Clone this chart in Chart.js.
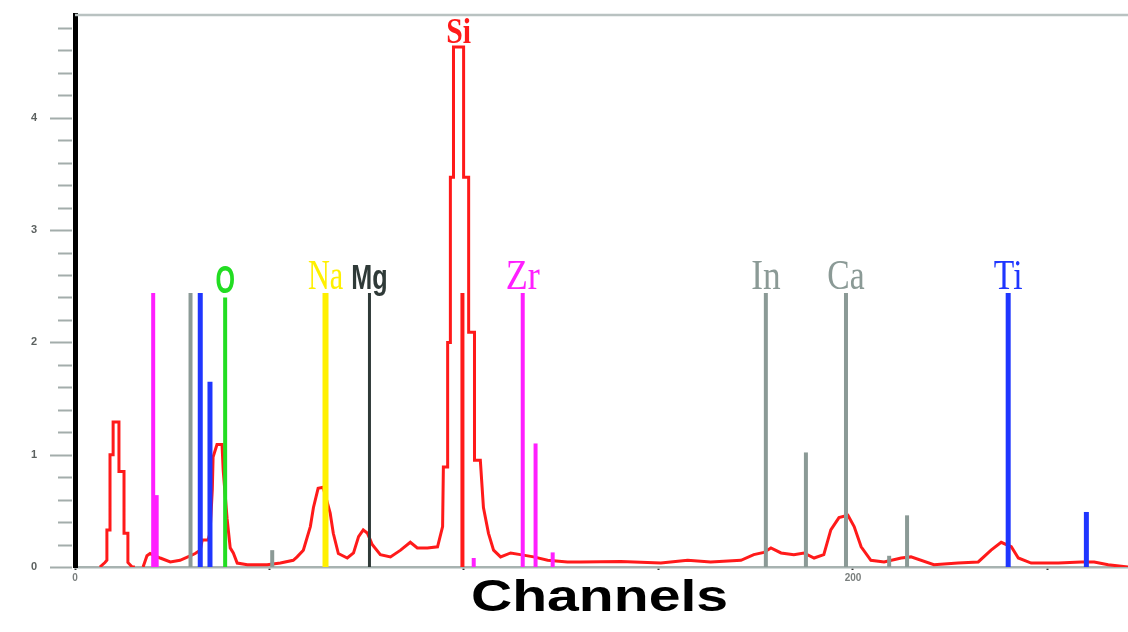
<!DOCTYPE html>
<html>
<head>
<meta charset="utf-8">
<title>Channels spectrum</title>
<script src="https://cdn.jsdelivr.net/npm/chart.js@4.4.1/dist/chart.umd.min.js"></script>
<style>
  html, body { margin: 0; padding: 0; background: #ffffff; }
  #wrap { width: 1128px; height: 632px; position: relative; }
</style>
</head>
<body>
<div id="wrap"><canvas id="spectrum"></canvas></div>
<script>
// Measured spectrum: channel and counts (x1000); null marks a break in the trace
const specChannels = [
  6.4, 7.7, 8.2, 8.2, 9.0, 9.0, 9.8, 9.8, 11.3, 11.3, 12.6, 12.6, 13.6, 13.6, 14.7, 15.4,
  16.4,
  17.5, 18.5, 19.3, 21.9, 24.5, 27.0, 29.6, 30.9, 32.2, 32.7, 34.2, 34.7, 35.3, 35.5, 36.5,
  37.8, 38.1, 39.1, 39.9, 40.7, 41.7, 44.3, 49.4, 52.8, 56.1, 57.1, 58.7, 60.5, 61.3, 62.5,
  63.8, 65.6, 66.4, 67.7, 70.0, 71.6, 72.9, 74.1, 75.2, 76.4, 78.5, 81.1, 83.7, 86.2, 88.0,
  90.6, 93.2, 94.5, 94.7, 95.8, 95.8, 96.5, 96.5, 97.3, 97.3, 99.9, 99.9, 101.2, 101.2,
  102.7, 102.7, 104.2, 105.0, 106.3, 107.6, 109.4, 112.0, 114.5, 117.9, 121.5, 126.6, 130.0,
  140.3, 150.6, 157.5, 163.4, 171.2, 174.5, 177.1, 178.9, 181.5, 184.8, 187.4, 190.0, 192.5,
  194.3, 196.4, 198.7, 200.3, 202.1, 204.6, 208.0, 212.4, 214.9, 220.8, 227.0, 232.2, 235.5,
  238.1, 240.7, 242.5, 245.8, 252.8, 258.7, 262.0, 265.6, 270.7
];
const specCounts = [
  0, 0.04, 0.06, 0.33, 0.33, 1.00, 1.00, 1.29, 1.29, 0.85, 0.85, 0.30, 0.30, 0.04, 0, 0,
  null,
  0, 0.10, 0.12, 0.08, 0.045, 0.06, 0.10, 0.12, 0.15, 0.24, 0.24, 0.30, 0.69, 0.98, 1.09,
  1.09, 0.86, 0.43, 0.17, 0.125, 0.035, 0.02, 0.02, 0.035, 0.06, 0.09, 0.15, 0.36, 0.53, 0.70,
  0.71, 0.48, 0.30, 0.12, 0.08, 0.125, 0.27, 0.33, 0.30, 0.20, 0.11, 0.09, 0.15, 0.22, 0.17,
  0.17, 0.18, 0.36, 0.89, 0.89, 2.00, 2.00, 3.47, 3.47, 4.63, 4.63, 3.47, 3.47, 2.09,
  2.09, 0.95, 0.95, 0.53, 0.30, 0.15, 0.09, 0.125, 0.11, 0.09, 0.06, 0.045, 0.045,
  0.05, 0.035, 0.06, 0.045, 0.06, 0.11, 0.13, 0.17, 0.125, 0.11, 0.125, 0.08, 0.11,
  0.33, 0.44, 0.46, 0.36, 0.18, 0.06, 0.045, 0.08, 0.09, 0.02, 0.035, 0.045, 0.15,
  0.22, 0.18, 0.08, 0.035, 0.035, 0.045, 0.045, 0.02, 0
];

// Reference lines for the identified elements
const markerChannels = [20.1, 21.0, 29.7, 32.2, 34.7, 38.6, 50.7, 64.4, 75.7, 99.6, 102.5, 115.1, 118.4, 122.8, 177.6, 187.9, 198.2, 209.3, 213.9, 239.9, 260.0];
const markerHeights  = [2.44, 0.64, 2.44, 2.44, 1.65, 2.40, 0.15, 2.44, 2.44, 2.44, 0.08, 2.44, 1.10, 0.13, 2.44, 1.02, 2.44, 0.10, 0.46, 2.44, 0.49];
const markerElements = ['Zr', 'Zr', 'In', 'Ti', 'Ti', 'O', 'In', 'Na', 'Mg', 'Si', 'Zr', 'Zr', 'Zr', 'Zr', 'In', 'Ca', 'Ca', 'Ca', 'Ca', 'Ti', 'Ti'];

// Element names written above their main line (Si sits on the spectrum peak)
const labelNames    = ['O', 'Na', 'Mg', 'Zr', 'In', 'Ca', 'Ti'];
const labelChannels = [38.6, 64.4, 75.7, 115.1, 177.6, 198.2, 239.9];
const peakLabel = 'Si';

// Axis tick labels
const yTickLabels = [0, 1, 2, 3, 4];
const xTickLabels = [0, 200];
const axisTitle = 'Channels';

// Drawing styles per element
const elementStyle = {
  Zr: { color: '#ff1fff', width: 4 },
  In: { color: '#8b9a96', width: 4 },
  Ca: { color: '#8b9a96', width: 4 },
  Ti: { color: '#1f36ff', width: 5 },
  O:  { color: '#22dd22', width: 4 },
  Na: { color: '#fff000', width: 6 },
  Mg: { color: '#2f3a38', width: 3 },
  Si: { color: '#ff1a1a', width: 4 }
};
const labelStyle = {
  O:  { font: 'bold 38px "Liberation Sans"', sx: 0.66 },
  Na: { font: '42px "Liberation Serif"', sx: 0.72 },
  Mg: { font: 'bold 35px "Liberation Sans"', sx: 0.72 },
  Zr: { font: '42px "Liberation Serif"', sx: 0.86 },
  In: { font: '42px "Liberation Serif"', sx: 0.84 },
  Ca: { font: '42px "Liberation Serif"', sx: 0.80 },
  Ti: { font: '42px "Liberation Serif"', sx: 0.80 },
  Si: { font: 'bold 35px "Liberation Serif"', sx: 0.85 }
};

const spectrumData = specChannels.map((c, i) => ({ x: c, y: specCounts[i] }));

const markerDatasets = markerChannels.map((c, i) => {
  const st = elementStyle[markerElements[i]];
  return {
    type: 'line',
    data: [{ x: c, y: 0 }, { x: c, y: markerHeights[i] }],
    borderColor: st.color,
    borderWidth: st.width,
    borderCapStyle: 'butt',
    pointRadius: 0,
    order: 0
  };
});

// Minor/major ticks on the count axis, frame line on top
const axisDecor = {
  id: 'axisDecor',
  afterDraw(chart) {
    const { ctx, chartArea, scales } = chart;
    const ys = scales.y;
    ctx.save();
    ctx.strokeStyle = '#a3adab';
    ctx.lineWidth = 2;
    for (let i = 0; i <= 24; i++) {
      const py = Math.round(ys.getPixelForValue(i / 5)) + 0.5;
      const len = i % 5 === 0 ? 22 : 14;
      ctx.beginPath();
      ctx.moveTo(chartArea.left - 3 - len, py);
      ctx.lineTo(chartArea.left - 3, py);
      ctx.stroke();
    }
    // top frame
    ctx.strokeStyle = '#b9c2c1';
    ctx.lineWidth = 2.5;
    ctx.beginPath();
    ctx.moveTo(chartArea.left, chartArea.top);
    ctx.lineTo(chartArea.right, chartArea.top);
    ctx.stroke();
    ctx.restore();
  }
};

// Element names and axis title
const textLayer = {
  id: 'textLayer',
  afterDraw(chart) {
    const { ctx, chartArea, scales } = chart;
    const xs = scales.x, ys = scales.y;
    const drawName = (name, ch, val) => {
      const st = labelStyle[name];
      const px = xs.getPixelForValue(ch);
      const py = ys.getPixelForValue(val) - 4;
      ctx.save();
      ctx.translate(px, py);
      ctx.scale(st.sx, 1);
      ctx.font = st.font;
      ctx.fillStyle = elementStyle[name].color;
      ctx.textAlign = 'center';
      ctx.textBaseline = 'alphabetic';
      ctx.fillText(name, 0, 0);
      ctx.restore();
    };
    labelNames.forEach((name, i) => {
      const idx = markerChannels.indexOf(labelChannels[i]);
      drawName(name, labelChannels[i], markerHeights[idx]);
    });
    // Si label above the spectrum maximum
    const peak = Math.max(...specCounts.filter(v => v !== null));
    const peakCh = specChannels.filter((c, i) => specCounts[i] === peak);
    const midCh = (peakCh[0] + peakCh[peakCh.length - 1]) / 2;
    drawName(peakLabel, midCh, peak);

    // axis title
    ctx.save();
    ctx.translate((chartArea.left + chartArea.right) / 2 - 2, 611);
    ctx.scale(1.27, 1);
    ctx.font = 'bold 45px "Liberation Sans"';
    ctx.fillStyle = '#000000';
    ctx.textAlign = 'center';
    ctx.textBaseline = 'alphabetic';
    ctx.fillText(axisTitle, 0, 0);
    ctx.restore();
  }
};

new Chart(document.getElementById('spectrum'), {
  type: 'line',
  data: {
    datasets: [
      ...markerDatasets,
      {
        type: 'line',
        data: spectrumData,
        borderColor: '#ff1a1a',
        borderWidth: 3,
        borderJoinStyle: 'miter',
        pointRadius: 0,
        tension: 0,
        spanGaps: false,
        order: 1
      }
    ]
  },
  options: {
    responsive: true,
    maintainAspectRatio: false,
    animation: false,
    devicePixelRatio: 1,
    layout: { padding: { top: 15, right: 0, bottom: 0, left: 0 } },
    plugins: { legend: { display: false }, tooltip: { enabled: false }, title: { display: false } },
    scales: {
      x: {
        type: 'linear',
        min: 0,
        max: 270.7,
        afterFit(scale) { scale.height = 65; },
        afterBuildTicks(scale) {
          scale.ticks = [0, 50, 100, 150, 200, 250].map(v => ({ value: v }));
        },
        ticks: {
          autoSkip: false,
          maxRotation: 0,
          padding: 2,
          color: '#7a7f7e',
          font: { family: 'Liberation Sans', size: 10, weight: 'bold' },
          callback: v => (xTickLabels.includes(v) ? String(v) : '')
        },
        grid: { drawOnChartArea: false, drawTicks: true, tickLength: 3, tickColor: '#333333', tickWidth: 2 },
        border: { display: true, color: '#a8b3b1', width: 2.5 }
      },
      y: {
        min: 0,
        max: 4.915,
        afterFit(scale) { scale.width = 75; },
        afterBuildTicks(scale) {
          scale.ticks = yTickLabels.map(v => ({ value: v }));
        },
        ticks: {
          padding: 0,
          color: '#5c6160',
          font: { family: 'Liberation Sans', size: 11, weight: 'bold' },
          callback: v => String(v)
        },
        // tick marks are drawn by the axisDecor plugin; this length only sets the label offset
        grid: { drawOnChartArea: false, drawTicks: true, tickLength: 38, tickColor: 'rgba(0,0,0,0)' },
        border: { display: true, color: '#000000', width: 5 }
      }
    }
  },
  plugins: [axisDecor, textLayer]
});
</script>
</body>
</html>
